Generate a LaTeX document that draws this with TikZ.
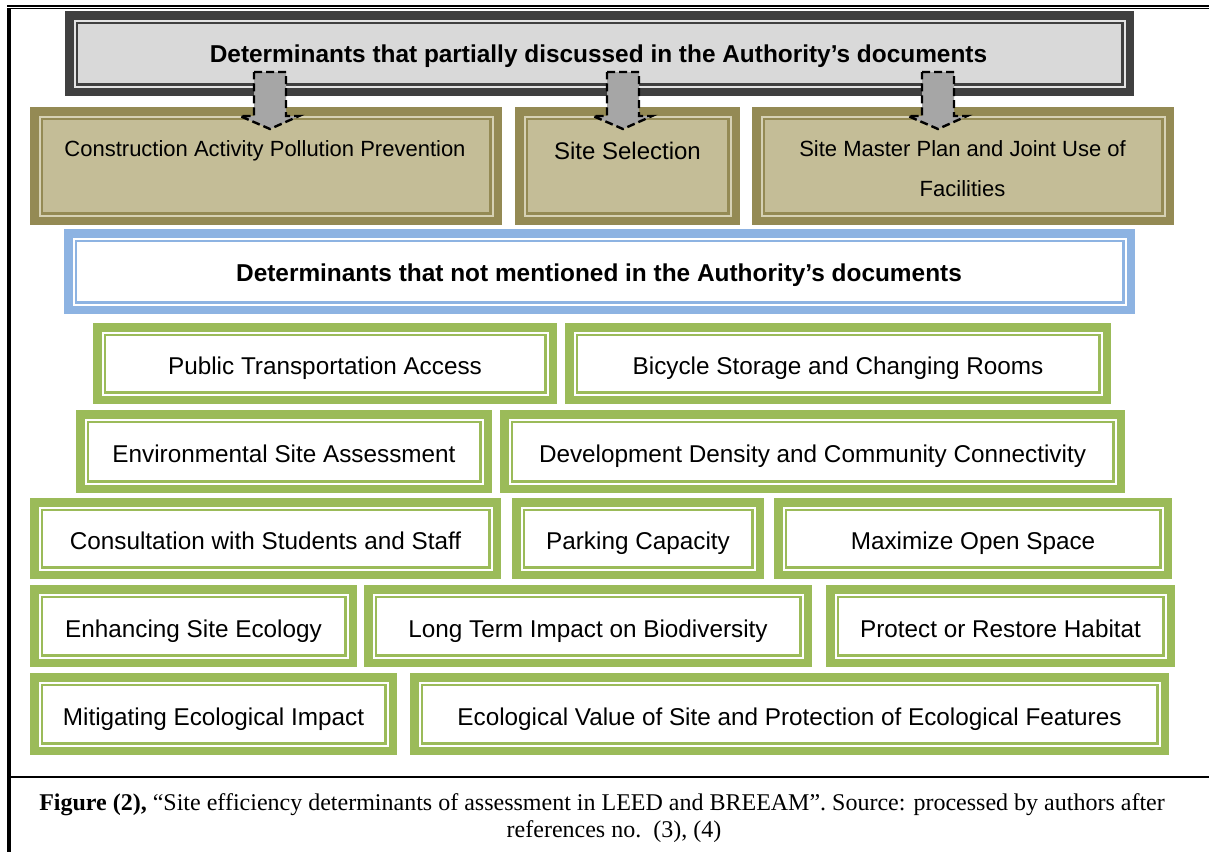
\documentclass[tikz,border=0pt]{standalone}
\usepackage{fontspec}
\setmainfont{Liberation Serif}
\newfontfamily\arialf{Liberation Sans}
\definecolor{grayband}{HTML}{404040}
\definecolor{graystripe}{HTML}{E4E4E4}
\definecolor{grayfill}{HTML}{D9D9D9}
\definecolor{tanband}{HTML}{948A54}
\definecolor{tanstripe}{HTML}{D6D1B4}
\definecolor{tanfill}{HTML}{C4BD97}
\definecolor{blueband}{HTML}{8DB3E2}
\definecolor{bluestripe}{HTML}{FFFFFF}
\definecolor{bluefill}{HTML}{FFFFFF}
\definecolor{greenband}{HTML}{9BBB59}
\definecolor{greenstripe}{HTML}{FFFFFF}
\definecolor{greenfill}{HTML}{FFFFFF}
\definecolor{arrowgray}{HTML}{A6A6A6}
\tikzset{
  txt/.style={font=\arialf\fontsize{24.3}{29}\selectfont, inner sep=0pt, anchor=base},
  tantxt/.style={font=\arialf\fontsize{22}{29}\selectfont, inner sep=0pt, anchor=base},
  boldtxt/.style={font=\arialf\bfseries\fontsize{24.4}{29}\selectfont, inner sep=0pt, anchor=base},
  captxt/.style={font=\fontsize{24}{27}\selectfont, inner sep=0pt, anchor=base},
  blockarrow/.style={fill=arrowgray, draw=black, line width=2.4pt, dash pattern=on 8pt off 4pt, line join=miter},
  frameline/.style={draw=black, line cap=butt},
}
% name, x1, y1, x2, y2, kind
\newcommand\frm[6]{%
  \fill[#6band] (#2,#3) rectangle (#4,#5);
  \fill[#6stripe] ({#2+8.5},{#3+8.5}) rectangle ({#4-8.5},{#5-8.5});
  \fill[#6band] ({#2+10.5},{#3+10.5}) rectangle ({#4-10.5},{#5-10.5});
  \fill[#6fill] ({#2+13},{#3+13}) rectangle ({#4-13},{#5-13});
  \node[inner sep=0pt, minimum width={#4-#2}, minimum height={#5-#3}] (#1) at ({(#2+#4)/2},{(#3+#5)/2}) {};
}
% block arrow: start coordinate name, tip coordinate name
\newcommand\barrow[2]{%
  \draw[blockarrow] ([xshift=-16pt]#1) -- ([xshift=16pt]#1) -- ([xshift=16pt,yshift=13pt]#2) -- ([xshift=29pt,yshift=13pt]#2) -- (#2) -- ([xshift=-30pt,yshift=13pt]#2) -- ([xshift=-16pt,yshift=13pt]#2) -- cycle;
}
\begin{document}
\begin{tikzpicture}[x=1pt,y=-1pt]
\useasboundingbox (0,0) rectangle (1209,852);
\fill[white] (0,0) rectangle (1209,852);
% outer frame
\draw[frameline, line width=1.8pt] (7,5.8) -- (1209,5.8);
\draw[frameline, line width=1.3pt] (9,8.8) -- (1209,8.8);
\draw[frameline, line width=3.6pt] (9.2,8) -- (9.2,852);
\draw[frameline, line width=2.2pt] (9,777) -- (1209,777);

% top box
\frm{top}{65}{11}{1134}{96}{gray}
\node[boldtxt] (ttop) at (598.5,62.7) {Determinants that partially discussed in the Authority’s documents};

% tan boxes
\frm{ca}{30}{107}{502}{225}{tan}
\frm{ss}{515}{107}{740}{225}{tan}
\frm{sm}{752}{107}{1174}{225}{tan}
\node[tantxt] (tca) at (265,156.7) {Construction Activity Pollution Prevention};
\node[txt, font=\arialf\fontsize{24}{29}\selectfont] (tss) at (627.5,159.3) {Site Selection};
\node[tantxt] (tsm1) at (962.5,156.7) {Site Master Plan and Joint Use of};
\node[tantxt] (tsm2) at (962.5,196.7) {Facilities};

% arrows
\coordinate (a1) at (270,72);
\coordinate (b1) at (270,129);
\coordinate (a2) at (623,72);
\coordinate (b2) at (623,129);
\coordinate (a3) at (938,72);
\coordinate (b3) at (938,129);
\barrow{a1}{b1}
\barrow{a2}{b2}
\barrow{a3}{b3}

% blue box
\frm{nm}{64}{229}{1135}{314}{blue}
\node[boldtxt] (tnm) at (599,281.7) {Determinants that not mentioned in the Authority’s documents};

% green boxes
\frm{pta}{93}{323}{557}{404}{green}
\frm{bic}{565}{323}{1111}{404}{green}
\frm{env}{76}{410}{492}{493}{green}
\frm{dev}{500}{410}{1125}{493}{green}
\frm{con}{30}{498}{501}{579}{green}
\frm{par}{512}{498}{764}{579}{green}
\frm{max}{774}{498}{1172}{579}{green}
\frm{enh}{30}{585}{357}{667}{green}
\frm{lti}{364}{585}{812}{667}{green}
\frm{pro}{826}{585}{1175}{667}{green}
\frm{mit}{30}{673}{397}{755}{green}
\frm{eco}{410}{673}{1169}{755}{green}

\node[txt] (tpta) at ([yshift=-11.2pt]pta.center) {Public Transportation Access};
\node[txt] (tbic) at ([yshift=-11.2pt]bic.center) {Bicycle Storage and Changing Rooms};
\node[txt] (tenv) at ([yshift=-11.2pt]env.center) {Environmental Site Assessment};
\node[txt] (tdev) at ([yshift=-11.2pt]dev.center) {Development Density and Community Connectivity};
\node[txt] (tcon) at ([yshift=-11.2pt]con.center) {Consultation with Students and Staff};
\node[txt] (tpar) at ([yshift=-11.2pt]par.center) {Parking Capacity};
\node[txt] (tmax) at ([yshift=-11.2pt]max.center) {Maximize Open Space};
\node[txt] (tenh) at ([yshift=-11.2pt]enh.center) {Enhancing Site Ecology};
\node[txt] (tlti) at ([yshift=-11.2pt]lti.center) {Long Term Impact on Biodiversity};
\node[txt] (tpro) at ([yshift=-11.2pt]pro.center) {Protect or Restore Habitat};
\node[txt] (tmit) at ([yshift=-11.2pt]mit.center) {Mitigating Ecological Impact};
\node[txt] (teco) at ([yshift=-11.2pt]eco.center) {Ecological Value of Site and Protection of Ecological Features};

% caption
\node[captxt] (cap1) at (602,810.7) {\textbf{Figure (2),} “Site efficiency determinants of assessment in LEED and BREEAM”. Source: processed by authors after};
\node[captxt] (cap2) at (614,837.7) {references no.\ \ (3), (4)};
\end{tikzpicture}
\end{document}
